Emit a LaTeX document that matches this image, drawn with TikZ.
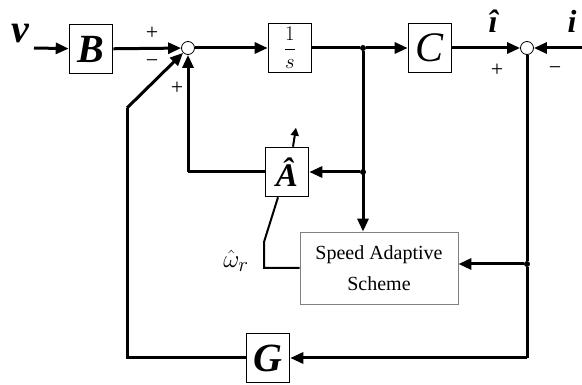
\documentclass[tikz,border=0pt]{standalone}
\usepackage{fontspec}
\setmainfont{Liberation Serif}
\usepackage{tikz}
\usetikzlibrary{arrows.meta, positioning}

\begin{document}
\begin{tikzpicture}[
    x=1pt, y=-1pt,
    box/.style={draw, line width=1.6pt, minimum width=43pt, minimum height=49pt, inner sep=0pt, font=\fontsize{40}{40}\selectfont\bfseries\itshape},
    sum/.style={draw, circle, line width=0.8pt, minimum size=13pt, inner sep=0pt},
    dot/.style={circle, fill, inner sep=0pt, minimum size=6pt},
    sign/.style={font=\fontsize{22}{22}\selectfont, inner sep=0pt},
    lbl/.style={font=\fontsize{32}{32}\selectfont\bfseries\itshape, inner sep=0pt},
    arrow/.style={-{Triangle[length=13pt, width=11pt]}, line width=3pt},
    wire/.style={line width=3pt},
]
    \useasboundingbox (0,0) rectangle (582,385);

    \node[box] (B) at (91,49) {B};
    \node[sum] (s1) at (188,48) {};
    \node[box, font=\fontsize{21}{21}\selectfont] (int) at (290,48) {${\displaystyle\frac{1}{s}}$};
    \node[box, font=\fontsize{42}{42}\selectfont\itshape] (C) at (430,48) {C};
    \node[sum] (s2) at (527,48) {};
    \node[box, font=\fontsize{33}{33}\selectfont\bfseries\itshape] (A) at (287,172) {\^{A}};
    \node[box] (G) at (268,358) {G};
    \node[draw=gray, line width=0.8pt, minimum width=158pt, minimum height=72pt, align=center, font=\fontsize{20}{31}\selectfont] (sas) at (379,268) {Speed Adaptive\\Scheme};

    \node[dot] (j1) at (363,48) {};
    \node[dot] (j2) at (363,172) {};
    \node[dot] (j3) at (527,264) {};
    \coordinate (vin) at (34,48);
    \coordinate (iin) at (582,48);
    \coordinate (bend) at (127,108);
    \coordinate (gl) at (127,358);
    \coordinate (gr) at (527,358);
    \coordinate (fa) at (188,172);
    \coordinate (w1) at (264,268);
    \coordinate (w2) at (264,242);

    % labels
    \node[lbl, anchor=base, font=\fontsize{40}{40}\selectfont\bfseries\itshape] (v) at (20,43) {v};
    \node[lbl, anchor=base] (ihat) at (493,33) {\^{\i}};
    \node[lbl, anchor=base] (i) at (572,33) {i};
    \node[font=\fontsize{28}{28}\selectfont, inner sep=0pt] (omega) at (236,261) {$\hat{\omega}_r$};
    \node[sign] (p1) at (152,33) {+};
    \node[sign] (m1) at (152,64) {\textminus};
    \node[sign] (p2) at (177,88) {+};
    \node[sign] (p3) at (497,70) {+};
    \node[sign] (m2) at (555,71) {\textminus};

    % forward path
    \draw[arrow] (vin) -- (B);
    \draw[arrow] (B) -- (s1);
    \draw[arrow] (s1) -- (int);
    \draw[wire] (int) -- (j1);
    \draw[arrow] (j1) -- (C);
    \draw[arrow] (C) -- (s2);
    \draw[arrow] (iin) -- (s2);

    % feedback
    \draw[wire] (s2) -- (j3);
    \draw[wire] (j3) -- (gr);
    \draw[arrow] (gr) -- (G);
    \draw[wire] (G) -- (gl) -- (bend);
    \draw[arrow] (bend) -- (s1);
    \draw[arrow] (j1) -- (j1 |- sas.north);
    \draw[arrow] (j2) -- (A);
    \draw[arrow] (j3) -- (sas.east |- j3);
    \draw[wire] (A) -- (fa);
    \draw[arrow] (fa) -- (s1);
    \draw[line width=2pt] (sas.west |- w1) -- (w1) -- (w2) -- ([xshift=-9pt]A.south);
    \draw[-{Triangle[length=8pt, width=8pt]}, line width=2pt] ([xshift=6pt]A.north) -- ++(3,-19);
\end{tikzpicture}
\end{document}
